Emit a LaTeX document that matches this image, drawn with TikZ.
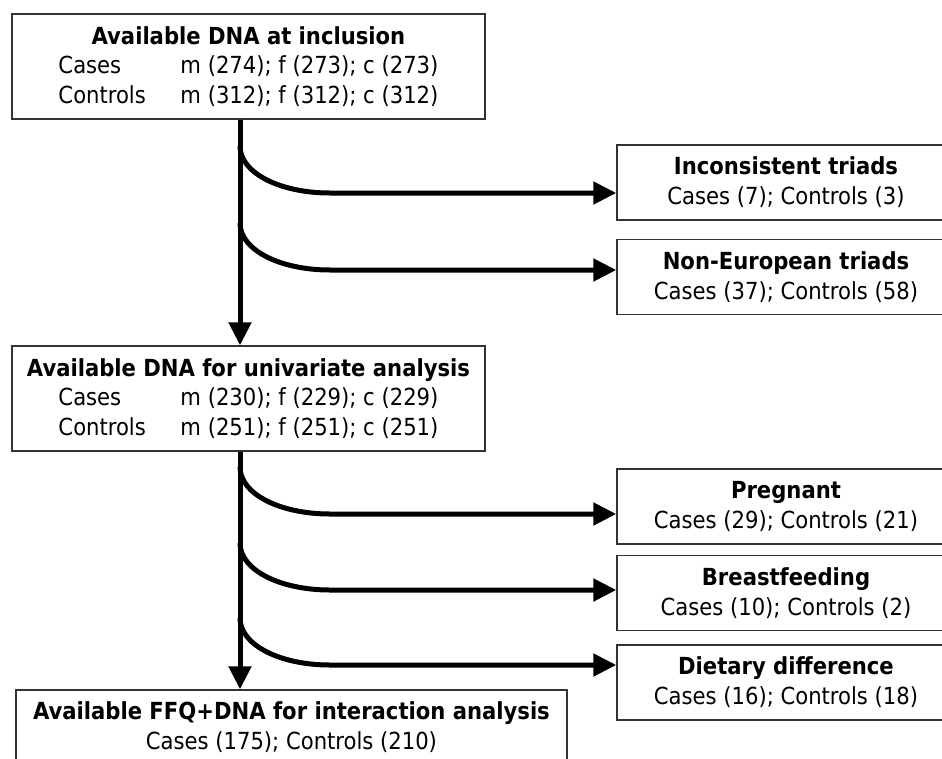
\documentclass[tikz,border=0pt]{standalone}
\usepackage{fontspec}
\setmainfont{DejaVu Sans Condensed}
\usepackage{tikz}
\usetikzlibrary{positioning, arrows.meta}

\newcommand{\rowlabel}[1]{\makebox[122pt][l]{#1}}

\begin{document}
\begin{tikzpicture}[
        x=1pt, y=-1pt,
        stage/.style={draw=black!80, line width=1.4pt, minimum width=473pt, minimum height=105pt, align=center, inner sep=0pt, font=\fontsize{23.5}{29.5}\selectfont, execute at begin node={\rule{0pt}{23pt}}},
        excl/.style={draw=black!80, line width=1.4pt, minimum width=338pt, minimum height=75pt, align=center, inner sep=0pt, font=\fontsize{23.5}{30}\selectfont, execute at begin node={\rule{0pt}{22pt}}},
        flow/.style={line width=5pt, -{Triangle[length=23pt, width=22pt]}},
        node distance=18pt
    ]
    \clip (0,0) rectangle (942,758);

    % Main stages
    \node[stage] (incl) at (248.5,66.5) {\textbf{Available DNA at inclusion}\\
        \rowlabel{Cases}m (274); f (273); c (273)\\
        \rowlabel{Controls}m (312); f (312); c (312)};
    \node[stage] (univ) at (248.5,398.5) {\textbf{Available DNA for univariate analysis}\\
        \rowlabel{Cases}m (230); f (229); c (229)\\
        \rowlabel{Controls}m (251); f (251); c (251)};
    \node[excl, minimum width=551pt] (interact) at (291.5,727.5) {\textbf{Available FFQ+DNA for interaction analysis}\\
        Cases (175); Controls (210)};

    % Exclusions, first step
    \node[excl] (inconsist) at (786,182.5) {\textbf{Inconsistent triads}\\ Cases (7); Controls (3)};
    \node[excl, below=of inconsist] (noneur) {\textbf{Non-European triads}\\ Cases (37); Controls (58)};

    % Exclusions, second step
    \node[excl] (pregnant) at (786,506.5) {\textbf{Pregnant}\\ Cases (29); Controls (21)};
    \node[excl, below=10pt of pregnant] (breastf) {\textbf{Breastfeeding}\\ Cases (10); Controls (2)};
    \node[excl, below=13pt of breastf] (dietary) {\textbf{Dietary difference}\\ Cases (16); Controls (18)};

    % Trunk and branch points
    \coordinate (trunk) at (240,0);
    \coordinate (s1) at (240,146);
    \coordinate (h1) at (330,193);
    \coordinate (s2) at (240,223);
    \coordinate (h2) at (330,270);
    \coordinate (s3) at (240,467);
    \coordinate (h3) at (330,514);
    \coordinate (s4) at (240,543);
    \coordinate (h4) at (330,590);
    \coordinate (s5) at (240,618);
    \coordinate (h5) at (330,665);

    % Main flow
    \draw[flow] (incl.south -| trunk) -- (univ.north -| trunk);
    \draw[flow] (univ.south -| trunk) -- (interact.north -| trunk);

    % Branches
    \draw[flow] (s1) .. controls +(0,27) and +(-50,0) .. (h1) -- (h1 -| inconsist.west);
    \draw[flow] (s2) .. controls +(0,27) and +(-50,0) .. (h2) -- (h2 -| noneur.west);
    \draw[flow] (s3) .. controls +(0,27) and +(-50,0) .. (h3) -- (h3 -| pregnant.west);
    \draw[flow] (s4) .. controls +(0,27) and +(-50,0) .. (h4) -- (h4 -| breastf.west);
    \draw[flow] (s5) .. controls +(0,27) and +(-50,0) .. (h5) -- (h5 -| dietary.west);

\end{tikzpicture}
\end{document}
